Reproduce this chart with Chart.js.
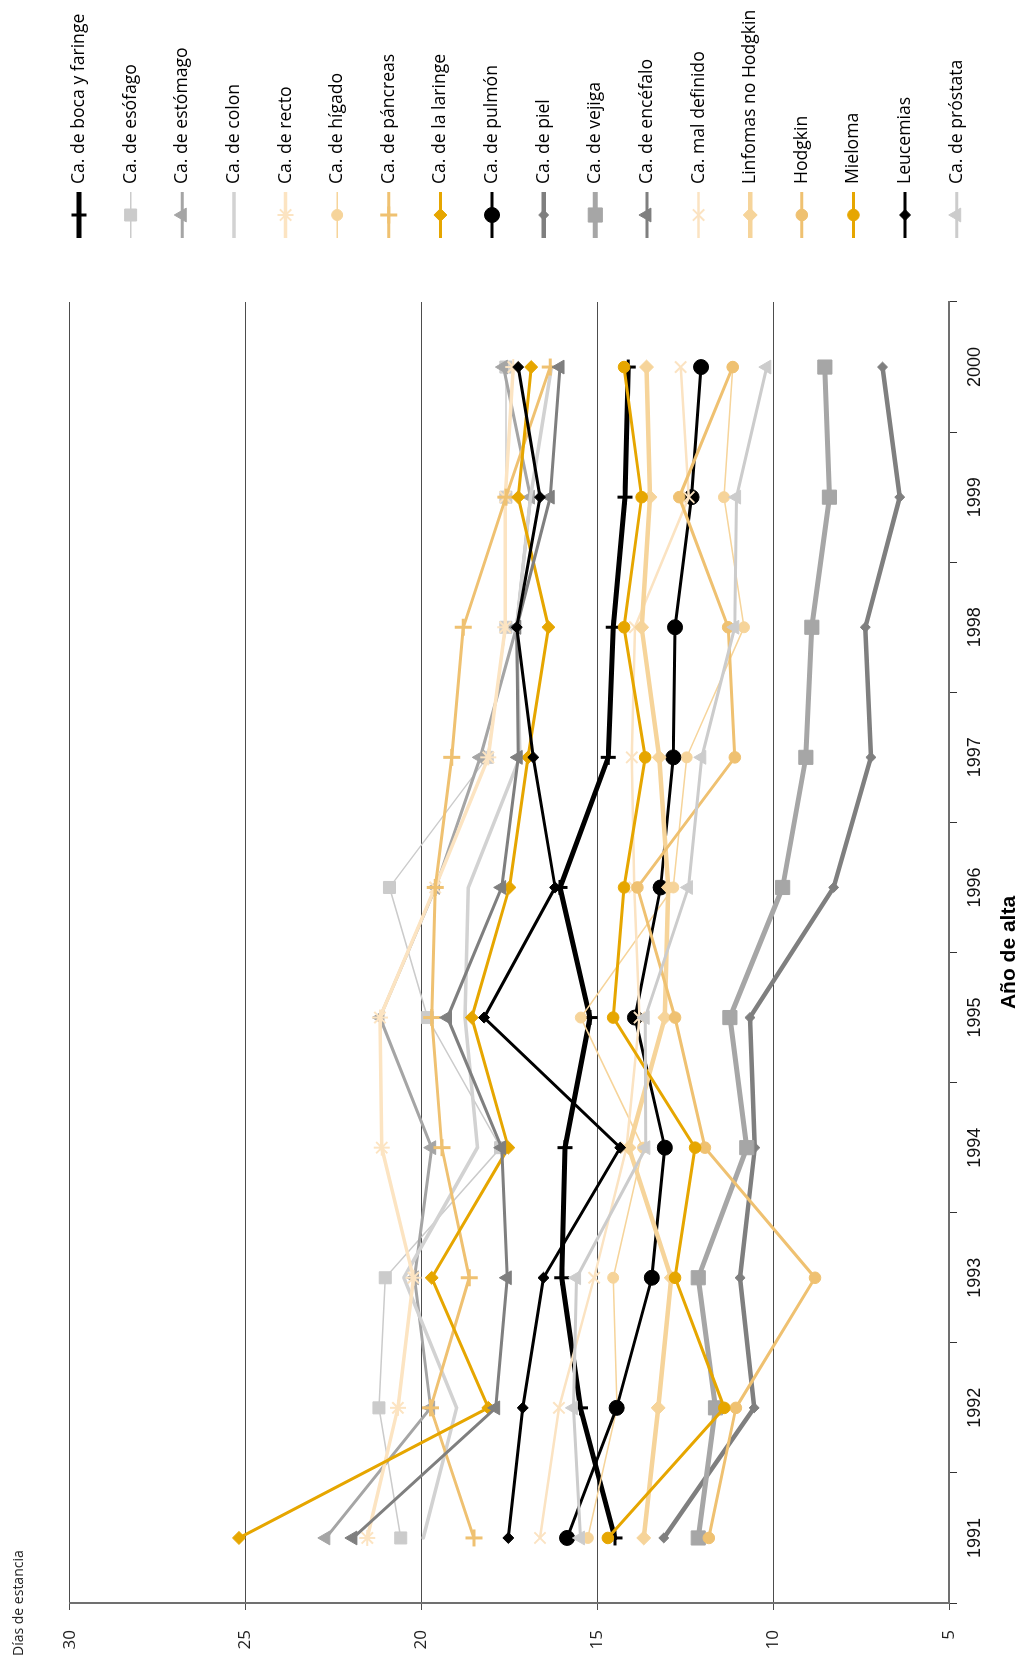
<!DOCTYPE html>
<html lang="es">
<head>
<meta charset="UTF-8">
<title>Días de estancia por año de alta</title>
<script src="https://cdn.jsdelivr.net/npm/chart.js"></script>
<style>
  html, body { margin: 0; padding: 0; overflow: hidden; background: #fff; }
  /* el gráfico se dibuja apaisado (1660x1022) y se gira 90° a la izquierda */
  #giro {
    position: absolute; left: 0; top: 0;
    width: 1660px; height: 1022px;
    transform-origin: 0 0;
    transform: translateY(1660px) rotate(-90deg);
  }
</style>
</head>
<body>
<div id="giro"><canvas id="estancia" width="1660" height="1022"></canvas></div>
<script>
// Años de alta (eje de categorías)
const years = ['1991', '1992', '1993', '1994', '1995', '1996', '1997', '1998', '1999', '2000'];
const valueTicks = [5, 10, 15, 20, 25, 30];

// Días de estancia por tipo de cáncer
const bocaFaringe = [14.50, 15.48, 16.01, 15.92, 15.21, 16.06, 14.69, 14.55, 14.21, 14.12];
const esofago     = [20.59, 21.21, 21.03, 17.75, 19.83, 20.91, 18.13, 17.60, 17.60, 17.60];
const estomago    = [22.72, 19.74, 20.20, 19.71, 21.18, 19.60, 18.33, 17.30, 16.90, 17.67];
const colon       = [19.95, 19.00, 20.50, 18.41, 18.76, 18.67, 17.20, 17.30, 16.90, 16.30];
const recto       = [21.54, 20.67, 20.23, 21.13, 21.18, 19.61, 18.10, 17.62, 17.62, 17.39];
const higado      = [15.27, 14.44, 14.55, 13.70, 15.47, 12.84, 12.46, 10.83, 11.40, 11.15];
const pancreas    = [18.51, 19.74, 18.64, 19.42, 19.71, 19.61, 19.14, 18.81, 17.60, 16.34];
const laringe     = [25.19, 18.10, 19.71, 17.53, 18.57, 17.50, 16.97, 16.39, 17.25, 16.88];
const pulmon      = [15.86, 14.45, 13.45, 13.08, 13.93, 13.20, 12.84, 12.79, 12.32, 12.05];
const piel        = [13.11, 10.54, 10.94, 10.52, 10.66,  8.28,  7.22,  7.38,  6.40,  6.89];
const vejiga      = [12.13, 11.64, 12.13, 10.75, 11.23,  9.73,  9.07,  8.90,  8.40,  8.53];
const encefalo    = [21.95, 17.89, 17.56, 17.72, 19.26, 17.72, 17.25, 17.29, 16.34, 16.06];
const malDefinido = [16.63, 16.09, 15.09, 14.17, 13.80, 13.95, 14.02, 13.93, 12.40, 12.63];
const linfomasNH  = [13.68, 13.27, 12.90, 14.10, 13.08, 12.98, 13.24, 13.74, 13.50, 13.60];
const hodgkin     = [11.83, 11.06,  8.81, 11.94, 12.79, 13.86, 11.09, 11.28, 12.67, 11.15];
const mieloma     = [14.70, 11.39, 12.79, 12.22, 14.55, 14.24, 13.64, 14.24, 13.74, 14.24];
const leucemias   = [17.53, 17.12, 16.53, 14.35, 18.22, 16.20, 16.82, 17.29, 16.63, 17.25];
const prostata    = [15.48, 15.68, 15.59, 13.62, 13.64, 12.41, 12.03, 11.09, 11.04, 10.18];

// Estilo de cada serie: color, grosor de línea, marcador
const series = [
  ['Ca. de boca y faringe', bocaFaringe, '#000000', 5,   'cross',    7.5, 3],
  ['Ca. de esófago',        esofago,     '#cbcbcb', 1.5, 'rect',     8.5, 1],
  ['Ca. de estómago',       estomago,    '#a5a5a5', 3,   'triangle', 8,   1],
  ['Ca. de colon',          colon,       '#d2d2d2', 3.5, 'circle',   0,   0],
  ['Ca. de recto',          recto,       '#fce4c2', 3.5, 'star',     8,   2],
  ['Ca. de hígado',         higado,      '#f6d49a', 1.5, 'circle',   5.5, 1],
  ['Ca. de páncreas',       pancreas,    '#efc171', 3,   'cross',    8.5, 3],
  ['Ca. de la laringe',     laringe,     '#e6a600', 3,   'rectRot',  6.5, 1],
  ['Ca. de pulmón',         pulmon,      '#000000', 3,   'circle',   7.5, 1],
  ['Ca. de piel',           piel,        '#7f7f7f', 4.5, 'rectRot',  5,   1],
  ['Ca. de vejiga',         vejiga,      '#a6a6a6', 5,   'rect',     10,  1],
  ['Ca. de encéfalo',       encefalo,    '#7f7f7f', 3,   'triangle', 8,   1],
  ['Ca. mal definido',      malDefinido, '#fbe3c2', 2.5, 'crossRot', 8,   2],
  ['Linfomas no Hodgkin',   linfomasNH,  '#f6d49a', 4.5, 'rectRot',  7,   1],
  ['Hodgkin',               hodgkin,     '#efc171', 3,   'circle',   5.8, 1],
  ['Mieloma',               mieloma,     '#e6a600', 3,   'circle',   5.8, 1],
  ['Leucemias',             leucemias,   '#000000', 3,   'rectRot',  5.5, 1],
  ['Ca. de próstata',       prostata,    '#cccccc', 3,   'triangle', 8,   1]
];

const datasets = series.map(([label, data, color, width, style, radius, markLine], i) => ({
  label: label,
  data: data,
  borderColor: color,
  backgroundColor: color,
  borderWidth: width,
  borderJoinStyle: 'round',
  borderCapStyle: 'round',
  tension: 0,
  pointStyle: style,
  pointRadius: radius,
  pointHoverRadius: radius,
  pointBackgroundColor: color,
  pointBorderColor: color,
  pointBorderWidth: markLine,
  order: series.length - i   // la última serie queda encima, como en el original
}));

// Leyenda a la derecha: línea con marcador y texto
const leyenda = {
  id: 'leyenda',
  afterDraw(chart) {
    const ctx = chart.ctx;
    ctx.save();
    chart.data.datasets.forEach((ds, i) => {
      const y = 79 + i * 51.63;
      ctx.strokeStyle = ds.borderColor;
      ctx.lineWidth = ds.borderWidth;
      ctx.lineCap = 'butt';
      ctx.beginPath();
      ctx.moveTo(1422, y);
      ctx.lineTo(1468, y);
      ctx.stroke();
      if (ds.pointRadius > 0) {
        ctx.fillStyle = ds.pointBackgroundColor;
        ctx.strokeStyle = ds.pointBorderColor;
        ctx.lineWidth = ds.pointBorderWidth;
        Chart.helpers.drawPoint(ctx, {
          pointStyle: ds.pointStyle,
          radius: ds.pointRadius,
          rotation: 0,
          borderWidth: ds.pointBorderWidth
        }, 1445, y);
      }
      ctx.fillStyle = '#000';
      ctx.font = "17.6px 'Open Sans'";
      ctx.textAlign = 'left';
      ctx.textBaseline = 'middle';
      ctx.fillText(ds.label, 1476, y);
    });
    ctx.restore();
  }
};

Chart.defaults.font.family = "'Open Sans', sans-serif";

new Chart(document.getElementById('estancia'), {
  type: 'line',
  data: { labels: years, datasets: datasets },
  plugins: [leyenda],
  options: {
    responsive: false,
    animation: false,
    devicePixelRatio: 1,
    layout: { padding: { left: 4, right: 302, top: 0, bottom: 0 } },
    plugins: {
      legend: { display: false },
      tooltip: { enabled: false },
      title: {
        display: true,
        text: 'Días de estancia',
        align: 'start',
        color: '#222',
        font: { size: 14, weight: 'normal' },
        padding: { top: 11, bottom: 42 }
      }
    },
    scales: {
      x: {
        type: 'category',
        offset: true,
        grid: { offset: true, drawOnChartArea: false, tickLength: 8, color: '#333' },
        border: { color: '#707070', width: 2 },
        ticks: { font: { family: "'Liberation Sans', Arial, sans-serif", size: 18 }, color: '#111', padding: 7, maxRotation: 0 },
        title: {
          display: true,
          text: 'Año de alta',
          color: '#000',
          font: { family: "'Liberation Sans', Arial, sans-serif", size: 21, weight: 'bold' },
          padding: 0
        },
        afterFit: s => { s.height = 73; }
      },
      y: {
        min: 5,
        max: 30,
        afterBuildTicks: s => { s.ticks = valueTicks.map(v => ({ value: v })); },
        ticks: { padding: 20, font: { size: 17 }, color: '#222' },
        grid: { color: '#4d4d4d', tickLength: 7 },
        border: { color: '#707070', width: 2 },
        afterFit: s => { s.width = 53; }
      }
    }
  }
});
</script>
</body>
</html>
